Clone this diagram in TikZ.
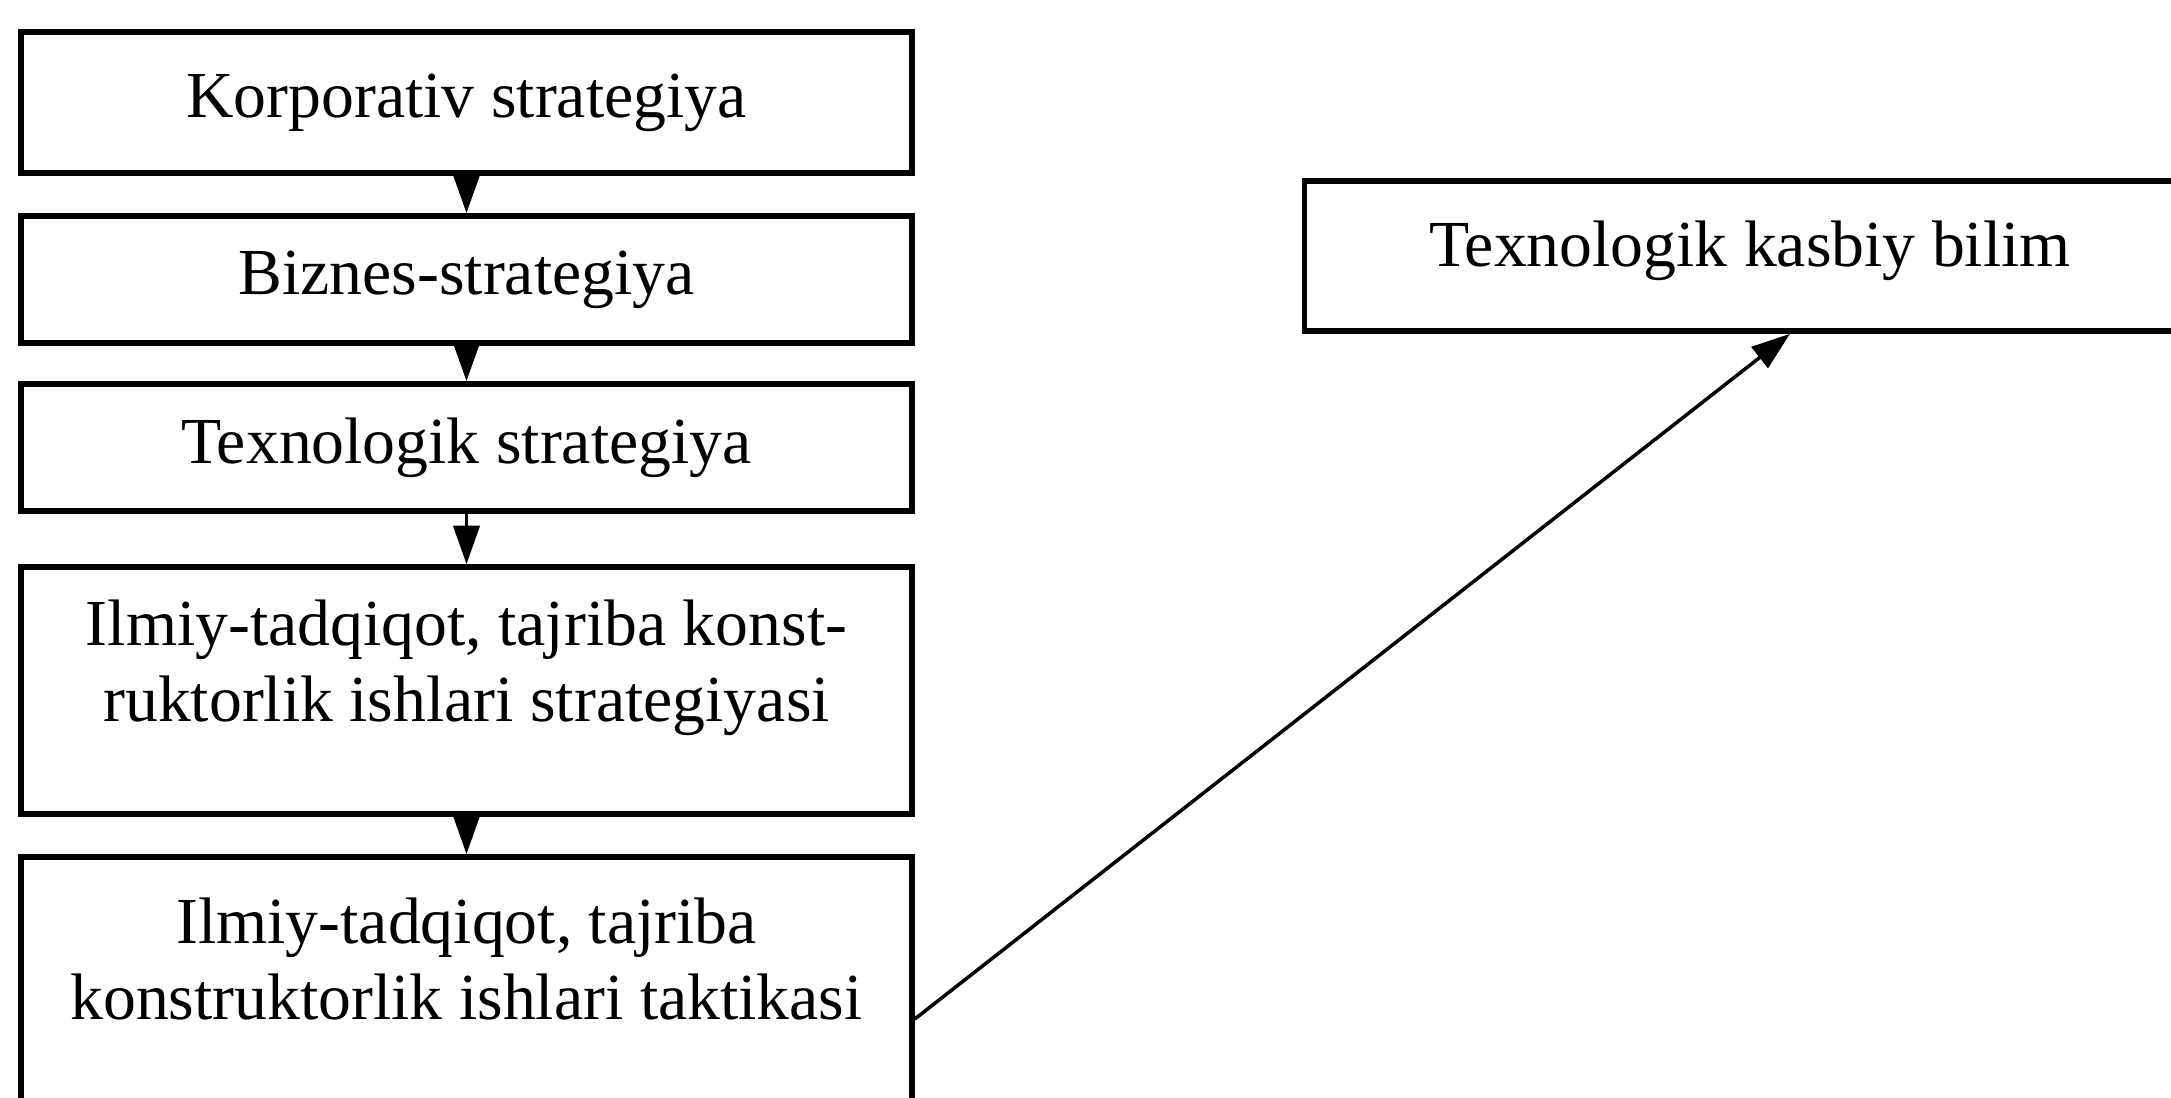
\documentclass[tikz,border=0pt]{standalone}
\usepackage{fontspec}
\setmainfont{Liberation Serif}
\usetikzlibrary{arrows.meta}
\tikzset{box/.style={draw, line width=1.6pt, minimum width=8.91cm, inner sep=0pt,
    font=\fontsize{18.7}{21.6}\selectfont, align=center},
  txt/.style={font=\fontsize{18.7}{21.6}\selectfont, align=center},
  link/.style={line width=1pt, -{Triangle[length=11pt,width=7.5pt]}}}
\begin{document}
\begin{tikzpicture}
     \clip (0,0) rectangle (21.71,10.98);
     \node[box, minimum height=1.41cm] (korp) at (4.665,9.955) {Korporativ strategiya};
     \node[box, minimum height=1.27cm] (biz) at (4.665,8.185) {Biznes-strategiya};
     \node[box, minimum height=1.27cm] (texs) at (4.665,6.505) {Texnologik strategiya};
     \node[box, minimum height=2.47cm] (ilm) at (4.665,4.075) {};
     \node[txt] (ilmt) at (4.665,4.30) {Ilmiy-tadqiqot, tajriba konst-\\ruktorlik ishlari strategiyasi};
     \node[box, minimum height=3.41cm] (takt) at (4.665,0.705) {};
     \node[txt] (taktt) at (4.665,1.39) {Ilmiy-tadqiqot, tajriba\\konstruktorlik ishlari taktikasi};
     \node[box, minimum height=1.5cm] (bilim) at (17.5,8.42) {};
     \node[txt] (bilimt) at (17.5,8.47) {Texnologik kasbiy bilim};
     \draw[link] (korp) -- (biz);
     \draw[link] (biz) -- (texs);
     \draw[link] (texs) -- (ilm);
     \draw[link] (ilm) -- (takt);
     \draw[link] (takt.east |- 0,0.79) -- ([xshift=0.4cm]bilim.south);
    \end{tikzpicture}
\end{document}
